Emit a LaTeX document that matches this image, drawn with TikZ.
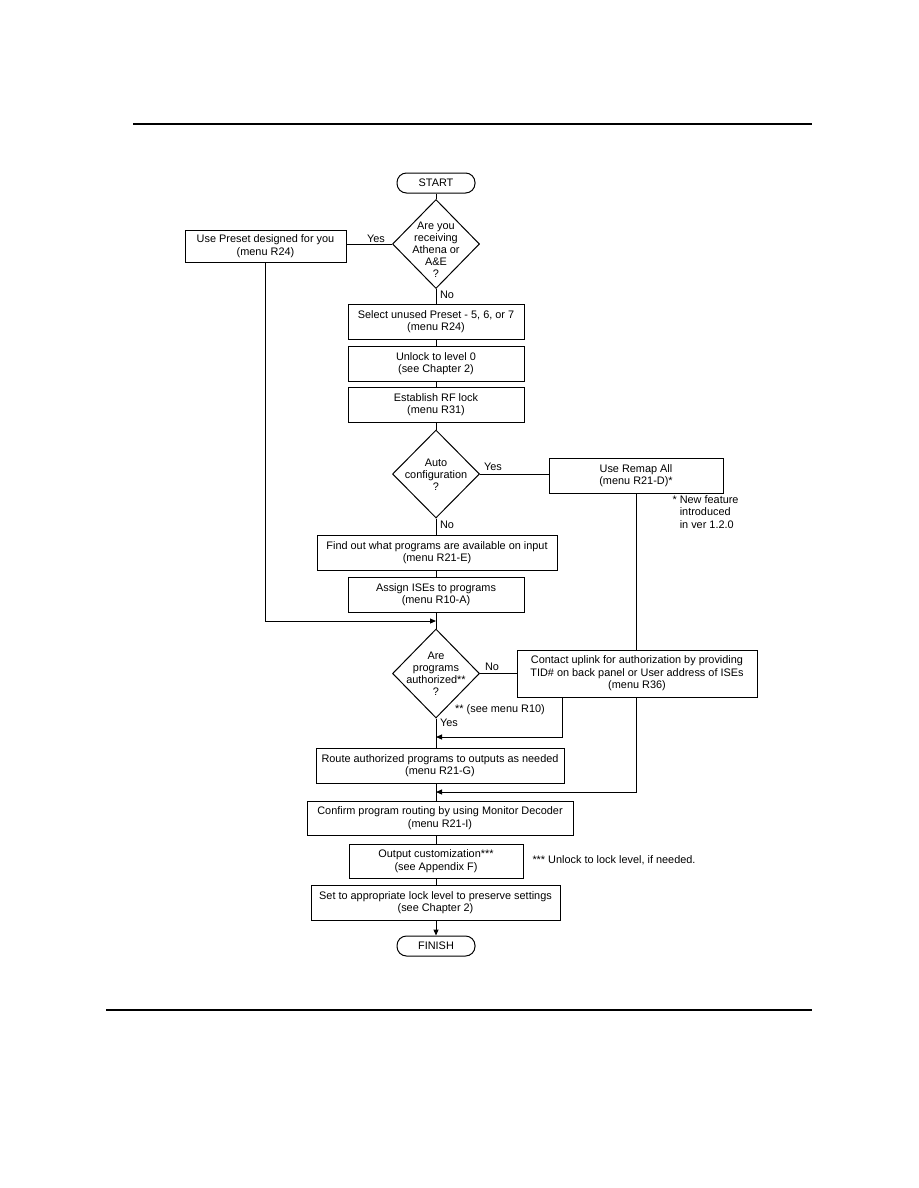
\documentclass[tikz,border=0pt]{standalone}
\usepackage{fontspec}
\setmainfont{Liberation Sans}
\usetikzlibrary{shapes.geometric,arrows.meta}
\begin{document}
\begin{tikzpicture}[x=1pt,y=-1pt,
  font=\fontsize{10.9}{12.5}\selectfont,
  line width=1pt,
  box/.style={draw, rectangle, inner sep=0pt, align=center, minimum height=35pt},
  term/.style={draw, rectangle, rounded corners=9.5pt, inner sep=0pt, minimum width=78pt, minimum height=20pt},
  dia/.style={draw, diamond, inner sep=0pt, minimum width=87pt, minimum height=89pt},
  dtext/.style={align=center, inner sep=0pt, font=\fontsize{10.9}{11.9}\selectfont},
  lbl/.style={inner sep=0pt},
  arr/.style={-{Triangle[length=6pt,width=5pt]}}]
\useasboundingbox[fill=white] (0,0) rectangle (918,1188);
% page rules
\coordinate (r1a) at (133,124); \coordinate (r1b) at (812,124);
\coordinate (r2a) at (106,1010); \coordinate (r2b) at (812,1010);
\draw[line width=1.3pt] (r1a) -- (r1b);
\draw[line width=2.2pt] (r2a) -- (r2b);

% nodes
\node[term] (start) at (436,183) {START};
\node[dia] (d1) at (436,244) {};
\node[dtext] (d1t) at (436,250) {Are you\\receiving\\Athena or\\A\&E\\?};
\node[box, minimum width=161pt, minimum height=32pt] (preset) at (265.5,246) {Use Preset designed for you\\(menu R24)};
\node[box, minimum width=176pt] (select) at (436,321.5) {Select unused Preset - 5, 6, or 7\\(menu R24)};
\node[box, minimum width=176pt] (unlock) at (436,363.5) {Unlock to level 0\\(see Chapter 2)};
\node[box, minimum width=176pt] (rflock) at (436,404.5) {Establish RF lock\\(menu R31)};
\node[dia, minimum height=88pt] (d2) at (436,474) {};
\node[dtext] (d2t) at (436,475) {Auto\\configuration\\?};
\node[box, minimum width=174pt] (remap) at (636,475.5) {Use Remap All\\(menu R21-D)*};
\node[lbl, anchor=north west, align=left] (note1) at (672,495) {* New feature\\\phantom{* }introduced\\\phantom{* }in ver 1.2.0};
\node[box, minimum width=240pt] (find) at (437,552.5) {Find out what programs are available on input\\(menu R21-E)};
\node[box, minimum width=176pt] (assign) at (436,594.5) {Assign ISEs to programs\\(menu R10-A)};
\node[dia] (d3) at (436,673.5) {};
\node[dtext] (d3t) at (436,673.5) {Are\\programs\\authorized**\\?};
\node[box, minimum width=240pt, minimum height=47pt] (contact) at (637,673.5) {Contact uplink for authorization by providing\\TID\# on back panel or User address of ISEs\\(menu R36)};
\node[lbl] (note2) at (500,710) {** (see menu R10)};
\node[box, minimum width=248pt] (route) at (440,765.5) {Route authorized programs to outputs as needed\\(menu R21-G)};
\node[box, minimum width=266pt, minimum height=34pt] (confirm) at (440,818) {Confirm program routing by using Monitor Decoder\\(menu R21-I)};
\node[box, minimum width=174pt, minimum height=34pt] (output) at (436,861) {Output customization***\\(see Appendix F)};
\node[lbl, anchor=west] (note3) at (532,860) {*** Unlock to lock level, if needed.};
\node[box, minimum width=249pt] (setlock) at (435.5,902.5) {Set to appropriate lock level to preserve settings\\(see Chapter 2)};
\node[term] (finish) at (436,946) {FINISH};

% labels
\node[lbl] (y1) at (376,239) {Yes};
\node[lbl] (n1) at (447,295) {No};
\node[lbl] (y2) at (493,467) {Yes};
\node[lbl] (n2) at (447,525) {No};
\node[lbl] (n3) at (492,667) {No};
\node[lbl] (y3) at (449,723) {Yes};

% junction coordinates
\coordinate (j0) at (436,621);
\coordinate (j1) at (436,737);
\coordinate (j2) at (436,792);
\coordinate (cb) at (562,0);

% connectors
\draw (start.south) -- (d1.north);
\draw (d1.west) -- (d1.west -| preset.east);
\draw (d1.south) -- (select.north);
\draw (select.south) -- (unlock.north);
\draw (unlock.south) -- (rflock.north);
\draw (rflock.south) -- (d2.north);
\draw (d2.east) -- (d2.east -| remap.west);
\draw (d2.south) -- (d2.south |- find.north);
\draw (d2.south |- find.south) -- (assign.north);
\draw (assign.south) -- (d3.north);
\draw[arr] (preset.south) |- (j0);
\draw (d3.east) -- (d3.east -| contact.west);
\draw (d3.south) -- (d3.south |- route.north);
\draw[arr] (contact.south -| cb) |- (j1);
\draw (remap.south) -- (remap.south |- contact.north);
\draw[arr] (remap.south |- contact.south) |- (j2);
\draw (d3.south |- route.south) -- (d3.south |- confirm.north);
\draw (d3.south |- confirm.south) -- (output.north);
\draw (output.south) -- (output.south |- setlock.north);
\draw[arr] (output.south |- setlock.south) -- (finish.north);
\end{tikzpicture}
\end{document}
